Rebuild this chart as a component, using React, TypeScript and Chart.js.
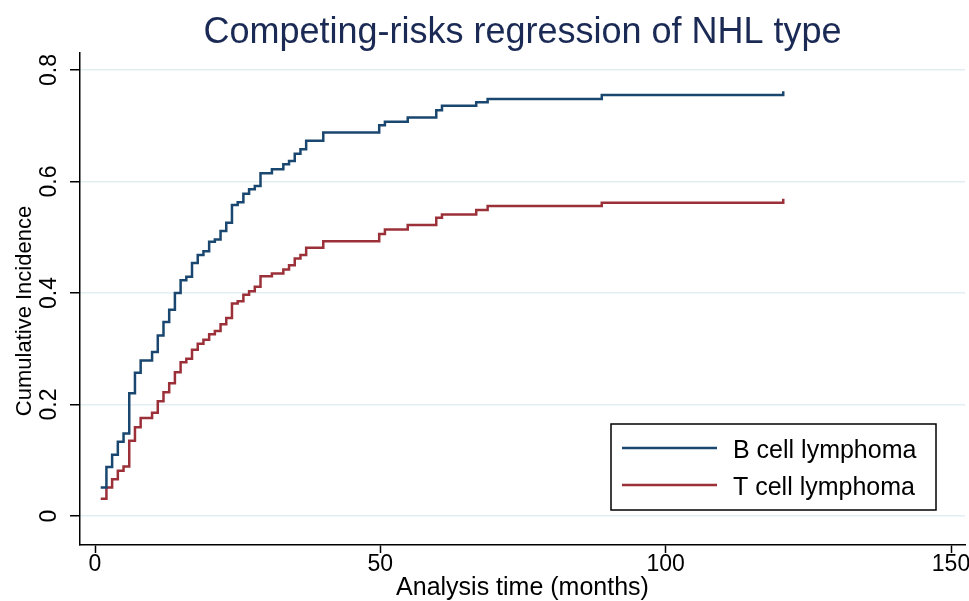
import React, { useEffect, useRef } from 'react';
import { Chart, registerables } from 'chart.js';

Chart.register(...registerables);

const chartTitle = 'Competing-risks regression of NHL type';
const xAxisTitle = 'Analysis time (months)';
const yAxisTitle = 'Cumulative Incidence';
const seriesLabels = ['B cell lymphoma', 'T cell lymphoma'];
const seriesColors = ['#1a476f', '#9c3039'];
const xTickValues = [0, 50, 100, 150];
const yTickValues = [0, 0.2, 0.4, 0.6, 0.8];

// B cell lymphoma: step times (months) and cumulative incidence after each step
const bTimes = [1, 2, 3, 4, 5, 6, 7, 8, 10, 11, 12, 13, 14, 15, 16, 17, 18, 19, 20, 21, 22, 23, 24, 25, 26, 27, 28, 29, 31, 33, 34, 35, 36, 37, 40, 49.8, 50.8, 54.8, 59.8, 60.8, 66.8, 68.8, 88.8, 120.6, 120.6];
const bValues = [0.051, 0.088, 0.11, 0.133, 0.148, 0.22, 0.257, 0.279, 0.294, 0.324, 0.348, 0.37, 0.4, 0.423, 0.429, 0.454, 0.468, 0.475, 0.492, 0.496, 0.511, 0.526, 0.558, 0.563, 0.578, 0.586, 0.592, 0.615, 0.622, 0.631, 0.637, 0.65, 0.658, 0.673, 0.688, 0.701, 0.707, 0.715, 0.728, 0.736, 0.742, 0.748, 0.755, 0.755, 0.762];

// T cell lymphoma
const tTimes = [1, 2, 3, 4, 5, 6, 7, 8, 10, 11, 12, 13, 14, 15, 16, 17, 18, 19, 20, 21, 22, 23, 24, 25, 26, 27, 28, 29, 31, 33, 34, 35, 36, 37, 40, 49.8, 50.8, 54.8, 59.8, 60.8, 66.8, 68.8, 88.8, 120.6, 120.6];
const tValues = [0.031, 0.051, 0.066, 0.081, 0.089, 0.135, 0.159, 0.176, 0.185, 0.206, 0.222, 0.238, 0.258, 0.276, 0.282, 0.298, 0.309, 0.316, 0.326, 0.332, 0.344, 0.355, 0.381, 0.385, 0.397, 0.403, 0.411, 0.43, 0.435, 0.442, 0.45, 0.462, 0.468, 0.481, 0.493, 0.506, 0.514, 0.522, 0.535, 0.541, 0.549, 0.556, 0.562, 0.562, 0.569];

const FONT = '"Liberation Sans", Arial, sans-serif';

const textPlugin = {
  id: 'stataTexts',
  afterDraw(chart: any) {
    const { ctx, chartArea } = chart;
    ctx.save();
    // main title, centred over the plot region
    ctx.font = `36px ${FONT}`;
    ctx.fillStyle = '#1a2a55';
    ctx.textAlign = 'center';
    ctx.textBaseline = 'alphabetic';
    ctx.fillText(chartTitle, (chartArea.left + chartArea.right) / 2, 43);
    // y axis title
    ctx.translate(25, (chartArea.top + chartArea.bottom) / 2 + 12);
    ctx.rotate(-Math.PI / 2);
    ctx.font = `22px ${FONT}`;
    ctx.fillStyle = '#000000';
    ctx.textBaseline = 'middle';
    ctx.fillText(yAxisTitle, 0, 0);
    ctx.restore();
  },
};

const boxLegendPlugin = {
  id: 'boxLegend',
  afterDraw(chart: any) {
    const { ctx, chartArea } = chart;
    const left = chartArea.right - 354;
    const top = chartArea.bottom - 121;
    const w = 325;
    const h = 86;
    ctx.save();
    ctx.fillStyle = '#ffffff';
    ctx.fillRect(left, top, w, h);
    ctx.strokeStyle = '#000000';
    ctx.lineWidth = 1.5;
    ctx.strokeRect(left, top, w, h);
    ctx.font = `25px ${FONT}`;
    ctx.textAlign = 'left';
    ctx.textBaseline = 'alphabetic';
    chart.data.datasets.forEach((ds: any, i: number) => {
      const y = top + 24 + i * 37;
      ctx.strokeStyle = ds.borderColor;
      ctx.lineWidth = 2.5;
      ctx.beginPath();
      ctx.moveTo(left + 11, y);
      ctx.lineTo(left + 106, y);
      ctx.stroke();
      ctx.fillStyle = '#000000';
      ctx.fillText(ds.label, left + 122, y + 10);
    });
    ctx.restore();
  },
};

export default function App() {
  const ref = useRef<HTMLCanvasElement | null>(null);

  useEffect(() => {
    if (!ref.current) return;
    document.body.style.margin = '0';
    const chart = new Chart(ref.current, {
      type: 'line',
      data: {
        datasets: [
          {
            label: seriesLabels[0],
            data: bTimes.map((x, i) => ({ x, y: bValues[i] })),
            borderColor: seriesColors[0],
            borderWidth: 2.5,
            pointRadius: 0,
            stepped: 'before',
            fill: false,
          },
          {
            label: seriesLabels[1],
            data: tTimes.map((x, i) => ({ x, y: tValues[i] })),
            borderColor: seriesColors[1],
            borderWidth: 2.5,
            pointRadius: 0,
            stepped: 'before',
            fill: false,
          },
        ],
      },
      options: {
        animation: false,
        responsive: false,
        devicePixelRatio: 1,
        layout: { autoPadding: false, padding: { top: 53, right: 4, left: 0, bottom: 0 } },
        plugins: {
          legend: { display: false },
          title: { display: false },
          tooltip: { enabled: false },
        },
        scales: {
          x: {
            type: 'linear',
            min: -2.63,
            max: 152.45,
            afterBuildTicks: (s: any) => {
              s.ticks = xTickValues.map((v) => ({ value: v }));
            },
            afterFit: (s: any) => {
              s.height = 56;
            },
            ticks: {
              autoSkip: false,
              maxRotation: 0,
              minRotation: 0,
              padding: -2,
              color: '#000',
              font: { family: FONT, size: 23 },
              callback: (v: any) => String(v),
            },
            grid: {
              drawOnChartArea: false,
              tickLength: 8,
              tickColor: '#000',
              tickWidth: 1.5,
            },
            border: { display: true, color: '#000', width: 1.5 },
            title: {
              display: true,
              text: xAxisTitle,
              color: '#000',
              font: { family: FONT, size: 25, lineHeight: 1 },
              padding: { top: 0, bottom: 0 },
            },
          },
          y: {
            type: 'linear',
            min: -0.052,
            max: 0.8305,
            afterBuildTicks: (s: any) => {
              s.ticks = yTickValues.map((v) => ({ value: v }));
            },
            afterFit: (s: any) => {
              s.width = 80;
            },
            ticks: {
              autoSkip: false,
              minRotation: 90,
              maxRotation: 90,
              crossAlign: 'center',
              padding: 4,
              color: '#000',
              font: { family: FONT, size: 23 },
              callback: (v: any) => (v === 0 ? '0' : Number(v).toFixed(1)),
            },
            grid: {
              color: '#e3eef3',
              lineWidth: 1.5,
              tickLength: 10,
              tickColor: '#000',
              tickWidth: 1.5,
            },
            border: { display: true, color: '#000', width: 1.5 },
            title: { display: false },
          },
        },
      },
      plugins: [textPlugin, boxLegendPlugin],
    } as any);
    return () => chart.destroy();
  }, []);

  return (
    <div style={{ position: 'fixed', left: 0, top: 0, width: 969, height: 601, background: '#fff' }}>
      <canvas ref={ref} width={969} height={601} />
    </div>
  );
}
